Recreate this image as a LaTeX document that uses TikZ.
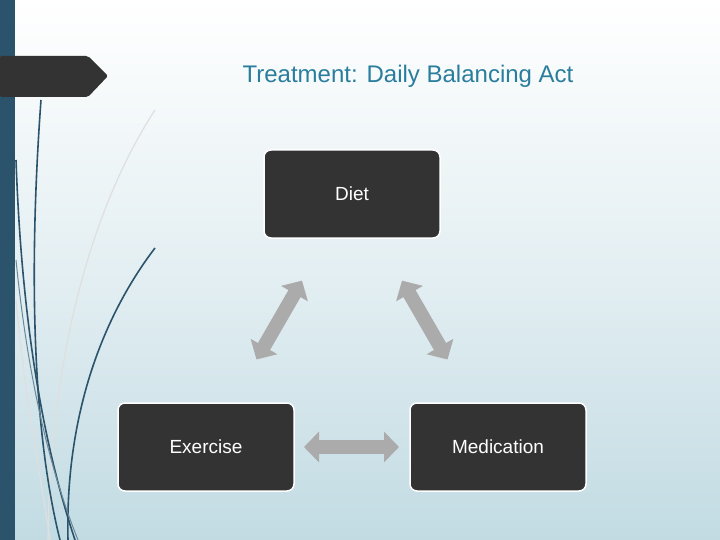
\documentclass[tikz,border=0pt]{standalone}
\usepackage{fontspec}
\setmainfont{Liberation Sans}
\usetikzlibrary{arrows.meta}
\definecolor{slateblue}{HTML}{2B536B}
\definecolor{titleblue}{HTML}{2A7D9C}
\definecolor{boxgrey}{HTML}{333333}
\definecolor{arrowgrey}{HTML}{ABABAB}
\definecolor{bgblue}{HTML}{C2DBE3}
\begin{document}
\begin{tikzpicture}[x=1pt, y=-1pt,
    box/.style={rectangle, draw=white, line width=1.5pt, rounded corners=7pt, fill=boxgrey,
                minimum width=176pt, minimum height=88pt, text=white, font=\fontsize{19}{22}\selectfont},
    dbl/.style={{Triangle[width=30pt,length=15pt]}-{Triangle[width=30pt,length=15pt]}, line width=14pt, arrowgrey},
    title/.style={text=titleblue, font=\fontsize{24}{28}\selectfont},
    swoosh/.style={slateblue, line width=1.6pt},
    wisp/.style={white!75!gray, line width=1.2pt}
]
    % Background
    \useasboundingbox (0,0) rectangle (720,540);
    \shade[top color=white, bottom color=bgblue, middle color=white!55!bgblue] (0,0) rectangle (720,540);
    \fill[slateblue] (0,0) rectangle (15,540);
    \fill[boxgrey, rounded corners=2pt] (0,56) -- (88,56) -- (108,76) -- (88,97) -- (0,97) -- cycle;

    % Decorative curves
    \draw[wisp] (155,110) .. controls (90,210) and (50,360) .. (48,540);
    \draw[wisp] (16,300) .. controls (25,400) and (40,470) .. (50,540);
    \draw[swoosh] (41,100) .. controls (30,250) and (30,420) .. (60,540);
    \draw[swoosh] (16,160) .. controls (22,330) and (45,450) .. (75,540);
    \draw[swoosh] (155,248) .. controls (100,320) and (65,420) .. (68,540);
    \draw[slateblue!70, line width=1pt] (16,260) .. controls (28,380) and (50,470) .. (78,540);

    % Title
    \node[title] (head) at (408,76) {Treatment: Daily Balancing Act};

    % Boxes
    \node[box] (diet) at (352,194) {Diet};
    \node[box] (exercise) at (206,447) {Exercise};
    \node[box] (medication) at (498,447) {Medication};

    % Double arrows
    \draw[dbl, shorten <=100pt, shorten >=101pt] (diet.center) -- (exercise.center);
    \draw[dbl, shorten <=100pt, shorten >=101pt] (diet.center) -- (medication.center);
    \draw[dbl, shorten <=98pt, shorten >=99pt] (exercise.center) -- (medication.center);
\end{tikzpicture}
\end{document}
